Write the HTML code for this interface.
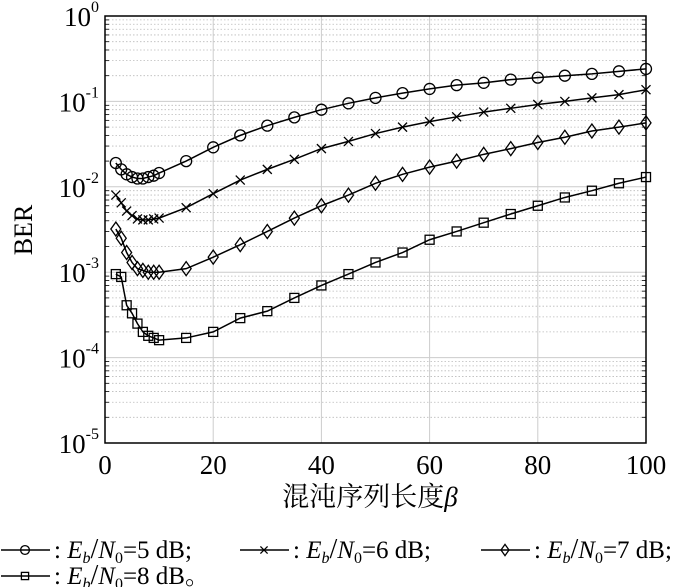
<!DOCTYPE html>
<html><head><meta charset="utf-8"><style>
body{margin:0;background:#fff;}
svg{display:block;font-family:"Liberation Serif","Noto Serif CJK SC",serif;}
</style></head><body>
<svg id="chart" width="700" height="587" viewBox="0 0 700 587">
<g id="grid"></g>
<g id="series"></g>
<rect x="105" y="16" width="541" height="427" fill="none" stroke="#000" stroke-width="1.5"/>
<g id="ticks"></g>
<text x="370" y="506" font-size="27" text-anchor="middle">混沌序列长度<tspan font-style="italic">β</tspan></text>
<text transform="translate(32,230) rotate(-90)" font-size="26" text-anchor="middle">BER</text>
<g id="legend" font-size="25"></g>
</svg>
<script>
const xs=[2,3,4,5,6,7,8,9,10,15,20,25,30,35,40,45,50,55,60,65,70,75,80,85,90,95,100];
const s5=[0.019,0.016,0.014,0.013,0.0125,0.0125,0.013,0.0135,0.0145,0.02,0.029,0.04,0.052,0.065,0.08,0.095,0.11,0.125,0.14,0.155,0.165,0.18,0.19,0.2,0.21,0.225,0.24];
const s6=[0.008,0.0065,0.0052,0.0046,0.0042,0.0041,0.0041,0.0042,0.0043,0.0057,0.0083,0.012,0.016,0.021,0.028,0.034,0.042,0.05,0.058,0.066,0.075,0.083,0.092,0.1,0.11,0.12,0.137];
const s7=[0.0032,0.0025,0.0017,0.0013,0.0011,0.00105,0.001,0.001,0.001,0.0011,0.0015,0.0021,0.003,0.0043,0.006,0.008,0.011,0.014,0.017,0.02,0.024,0.028,0.033,0.038,0.045,0.05,0.056];
const s8=[0.00095,0.00088,0.00041,0.00033,0.00025,0.0002,0.00018,0.00017,0.00016,0.00017,0.0002,0.00029,0.00035,0.0005,0.0007,0.00095,0.0013,0.0017,0.0024,0.003,0.0038,0.0048,0.006,0.0075,0.009,0.011,0.013];
const xTicks=[0,20,40,60,80,100];
const yExps=[0,-1,-2,-3,-4,-5];
const NS='http://www.w3.org/2000/svg';
const X0=105,X1=646,Y0=16,Y1=443;
const xp=v=>X0+(v/100)*(X1-X0);
const yp=v=>Y0+(-Math.log10(v))/5*(Y1-Y0);
function mk(t,a,p){const e=document.createElementNS(NS,t);for(const k in a)e.setAttribute(k,a[k]);p.appendChild(e);return e;}
const grid=document.getElementById('grid'),ticks=document.getElementById('ticks');
for(let d=0;d<5;d++){for(let m=2;m<=9;m++){const y=yp(m*Math.pow(10,-d-1));
const l=mk('line',{x1:X0,x2:X1,y1:y,y2:y,stroke:'#bbb','stroke-width':0.8,'stroke-dasharray':'1.5 2'},grid);


[[X0,X0+4],[X1-4,X1]].forEach(([a,b])=>{const t=mk('line',{x1:a,x2:b,y1:y,y2:y,stroke:'#000','stroke-width':0.8},ticks);});}}
yExps.forEach(e=>{const y=yp(Math.pow(10,e));
const l=mk('line',{x1:X0,x2:X1,y1:y,y2:y,stroke:'#ccc','stroke-width':1},grid);


const t=mk('text',{x:X0-6,y:y+10,'font-size':27,'text-anchor':'end'},ticks);


t.innerHTML='10<tspan dy="-14" font-size="16">'+e+'</tspan>';});
xTicks.forEach(v=>{const x=xp(v);
if(v>0&&v<100){const l=mk('line',{x1:x,x2:x,y1:Y0,y2:Y1,stroke:'#ccc','stroke-width':1},grid);

}
const t=mk('text',{x:x,y:474,'font-size':27,'text-anchor':'middle'},ticks);


t.textContent=v;});
function marker(type,x,y,p,sc){sc=sc||1;let e;
if(type==='o')e=mk('circle',{cx:x,cy:y,r:5.5*sc,fill:'none',stroke:'#000','stroke-width':1.3},p);
else if(type==='x'){const r=4.5*sc;e=mk('path',{d:`M${x-r} ${y-r}L${x+r} ${y+r}M${x-r} ${y+r}L${x+r} ${y-r}`,stroke:'#000','stroke-width':1.3},p);}
else if(type==='d')e=mk('path',{d:`M${x} ${y-7*sc}L${x+5*sc} ${y}L${x} ${y+7*sc}L${x-5*sc} ${y}Z`,fill:'none',stroke:'#000','stroke-width':1.3},p);
else e=mk('rect',{x:x-4.5*sc,y:y-4.5*sc,width:9*sc,height:9*sc,fill:'none',stroke:'#000','stroke-width':1.3},p);
return e;}
const sg=document.getElementById('series');
[[s5,'o','5'],[s6,'x','6'],[s7,'d','7'],[s8,'s','8']].forEach(([arr,m,n])=>{
const g=mk('g',{},sg);


const pl=mk('polyline',{points:xs.map((x,i)=>xp(x)+','+yp(arr[i])).join(' '),fill:'none',stroke:'#000','stroke-width':1.5},g);


xs.forEach((x,i)=>{const e=marker(m,xp(x),yp(arr[i]),g);

});});
const lg=document.getElementById('legend');
[[0,558,'o','5',';'],[239,558,'x','6',';'],[480,558,'d','7',';'],[0,584,'s','8','。']].forEach(([x,y,m,n,end])=>{
const g=mk('g',{},lg);


mk('line',{x1:x+1,x2:x+50,y1:y-8,y2:y-8,stroke:'#000','stroke-width':1.5},g);
marker(m,x+25,y-8,g,0.8);
const t=mk('text',{x:x+54,y:y},g);
t.innerHTML=': <tspan font-style="italic">E</tspan><tspan font-style="italic" font-size="16" dy="5">b</tspan><tspan dy="-5" font-size="28">/</tspan><tspan font-style="italic">N</tspan><tspan font-size="16" dy="5">0</tspan><tspan dy="-5">='+n+' dB'+end+'</tspan>';});
</script>
</body></html>
